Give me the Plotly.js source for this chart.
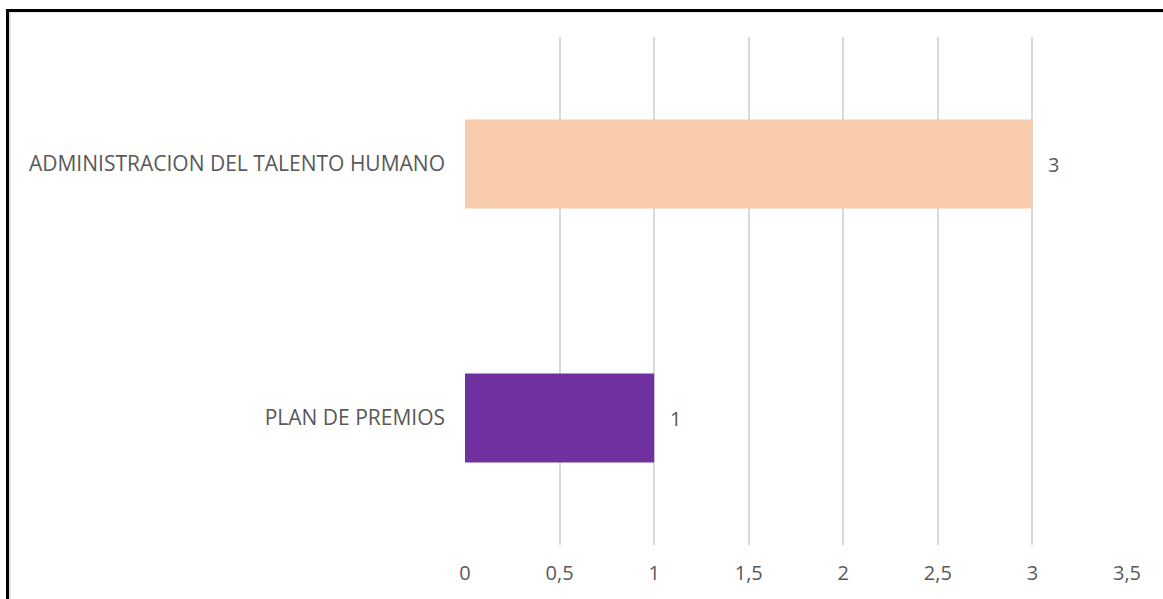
<!DOCTYPE html>
<html>
<head>
<meta charset="utf-8">
<script src="https://cdn.plot.ly/plotly-3.0.1.min.js"></script>
<style>
  html, body { margin: 0; padding: 0; background: #ffffff; overflow: hidden; }
  #chart { position: absolute; left: 0; top: 0; width: 1163px; height: 599px; }
  #frame { position: absolute; left: 6px; top: 9px; width: 1200px; height: 700px;
           border-top: 3px solid #000; border-left: 3px solid #000; pointer-events: none; }
  #frame2 { position: absolute; left: 9px; top: 12px; width: 1200px; height: 700px;
           border-top: 1px solid #e4e4e4; border-left: 2px solid #e4e4e4; pointer-events: none; }
</style>
</head>
<body>
<div id="chart"></div>
<div id="frame2"></div>
<div id="frame"></div>
<script>
const categories = ["PLAN DE PREMIOS", "ADMINISTRACION DEL TALENTO HUMANO"];
const values = [1, 3];
const barColors = ["#7030A0", "#F8CBAD"];
const xTickVals = [0, 0.5, 1, 1.5, 2, 2.5, 3, 3.5];
const xTickText = ["0", "0,5", "1", "1,5", "2", "2,5", "3", "3,5"];

const fontFam = "'Open Sans', 'Noto Sans', sans-serif";
const textColor = "#595959";

const trace = {
  type: "bar",
  orientation: "h",
  y: categories,
  x: values,
  width: 0.35,
  marker: { color: barColors, line: { width: 0 } },
  hoverinfo: "none"
};

const annotations = categories.map((c, i) => ({
  x: values[i], y: c, xref: "x", yref: "y",
  text: String(values[i]),
  showarrow: false,
  xanchor: "left",
  xshift: 14,
  font: { family: fontFam, size: 20, color: textColor }
}));

const layout = {
  width: 1163,
  height: 599,
  margin: { l: 465, r: 36, t: 37, b: 54 },
  paper_bgcolor: "#ffffff",
  plot_bgcolor: "#ffffff",
  showlegend: false,
  separators: ",.",
  font: { family: fontFam, size: 20, color: textColor },
  xaxis: {
    range: [0, 3.5],
    tickvals: xTickVals,
    ticktext: xTickText,
    showgrid: true,
    gridcolor: "#D9D9D9",
    gridwidth: 2,
    zeroline: false,
    showline: false,
    ticks: "",
    ticklabelstandoff: 14,
    tickfont: { family: fontFam, size: 20, color: textColor },
    fixedrange: true
  },
  yaxis: {
    type: "category",
    showgrid: false,
    zeroline: false,
    showline: false,
    ticks: "",
    ticklabelstandoff: 19,
    tickfont: { family: fontFam, size: 21, color: textColor },
    fixedrange: true
  },
  annotations: annotations
};

Plotly.newPlot("chart", [trace], layout, { displayModeBar: false, staticPlot: true });
</script>
</body>
</html>
